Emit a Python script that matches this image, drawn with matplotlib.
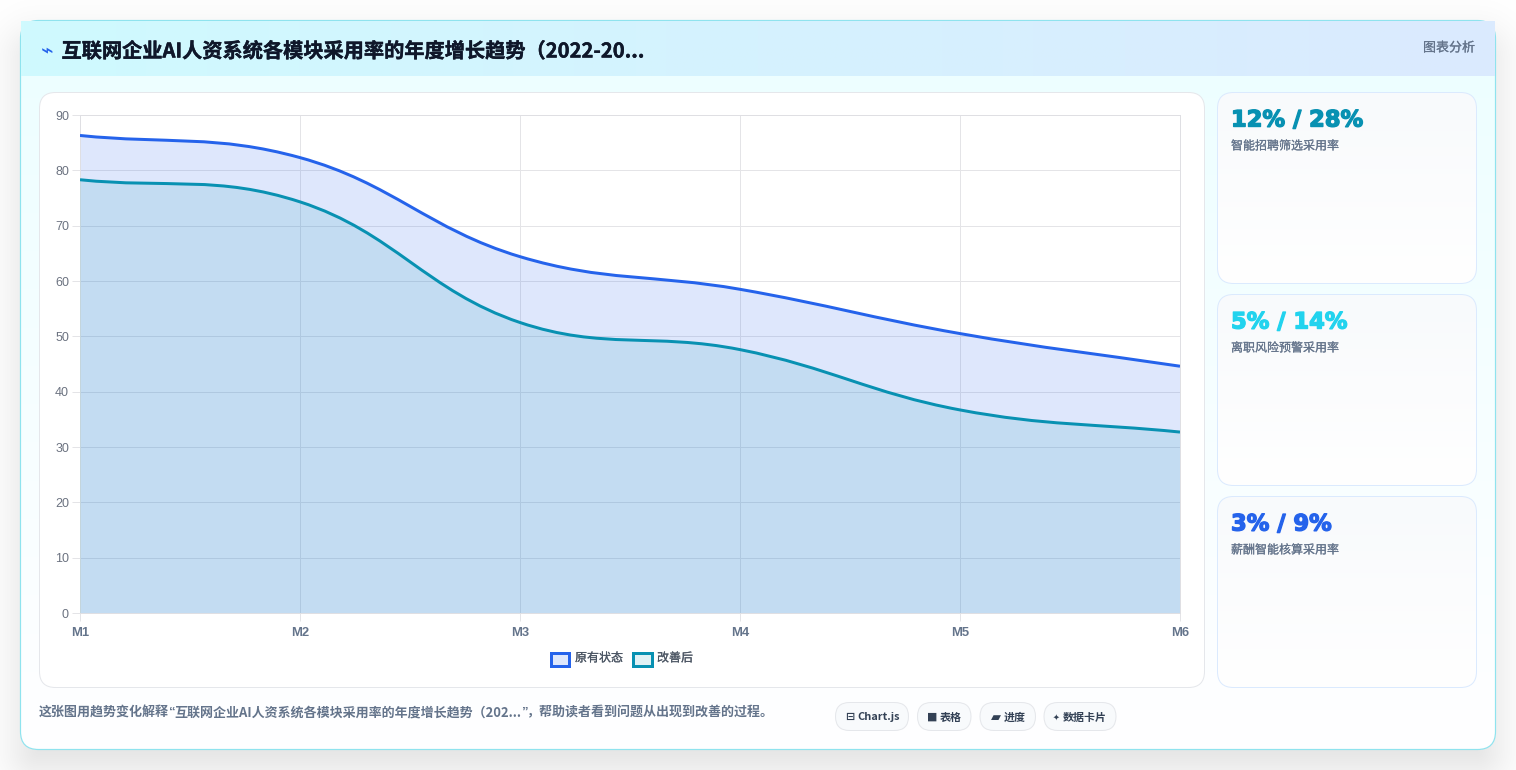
import numpy as np
import matplotlib
matplotlib.use("Agg")
import matplotlib.pyplot as plt
import matplotlib.patheffects as pe
from matplotlib.patches import FancyBboxPatch, PathPatch, Rectangle
from matplotlib.path import Path
from matplotlib.colors import to_rgb

W, H = 1516, 770
CJK = ["Noto Sans CJK SC", "DejaVu Sans"]

months = ["M1", "M2", "M3", "M4", "M5", "M6"]
before = [86.3, 82.3, 64.4, 58.5, 50.5, 44.6]
after = [78.3, 74.3, 52.5, 47.6, 36.7, 32.7]
y_ticks = [0, 10, 20, 30, 40, 50, 60, 70, 80, 90]

series_names = ["原有状态", "改善后"]
series_colors = ["#2563eb", "#0891b2"]
series_alpha = [0.15, 0.125]

title = "互联网企业AI人资系统各模块采用率的年度增长趋势（2022-20..."
caption_parts = ["这张图用趋势变化解释", "“", "互联网企业AI人资系统各模块采用率的年度增长趋势（202...", "”", "，帮助读者看到问题从出现到改善的过程。"]

kpi_values = ["12% / 28%", "5% / 14%", "3% / 9%"]
kpi_labels = ["智能招聘筛选采用率", "离职风险预警采用率", "薪酬智能核算采用率"]
kpi_colors = ["#0891b2", "#22d3ee", "#2563eb"]

chip_icons = ["⊟", "■", "▰", "✦"]
chip_texts = ["Chart.js", "表格", "进度", "数据卡片"]


def px(size):
    return size * 0.72


def rounded(x0, y0, x1, y1, r, **kw):
    return FancyBboxPatch((x0, y0), x1 - x0, y1 - y0,
                          boxstyle=f"round,pad=0,rounding_size={r}", **kw)


def thicken(txt, color, width=0.15):
    # fatten a glyph run a little, the installed weights jump too far
    txt.set_path_effects([pe.withStroke(linewidth=width, foreground=color)])
    return txt


def gradient(ax, box, start, end, angle="vertical", clip=None, zorder=1):
    x0, y0, x1, y1 = box
    t = np.linspace(0, 1, 256)
    if angle == "vertical":
        t = t[:, None]
    else:
        t = t[None, :]
    a, b = np.array(to_rgb(start)), np.array(to_rgb(end))
    img = a + (b - a) * t[..., None]
    im = ax.imshow(img, extent=[x0, x1, y1, y0], aspect="auto", zorder=zorder, interpolation="bilinear")
    if clip is not None:
        im.set_clip_path(clip)
    ax.set_xlim(0, W)
    ax.set_ylim(H, 0)


def drop_shadow(ax, box, r, offset, soft, strength):
    # soft shadow from the signed distance of a rounded rectangle
    x0, y0, x1, y1 = box
    xx, yy = np.meshgrid(np.arange(W) + 0.5, np.arange(H) + 0.5)
    cx, cy = (x0 + x1) / 2, (y0 + y1) / 2 + offset
    qx = np.abs(xx - cx) - (x1 - x0) / 2 + r
    qy = np.abs(yy - cy) - (y1 - y0) / 2 + r
    dist = np.hypot(np.maximum(qx, 0), np.maximum(qy, 0)) + np.minimum(np.maximum(qx, qy), 0) - r
    rgba = np.zeros((H, W, 4))
    rgba[..., 3] = strength / (1 + np.exp(dist / soft))
    ax.imshow(rgba, extent=[0, W, H, 0], aspect="auto", zorder=0)


def spline_path(ax, values, tension=0.4):
    # bezier segments through the points, control points worked out in screen space
    pts = ax.transData.transform(np.column_stack([np.arange(len(values)), values]))
    verts = [pts[0]]
    codes = [Path.MOVETO]
    n = len(pts)
    c_in = [pts[0]] * n
    c_out = [pts[0]] * n
    for i in range(n):
        prev_p = pts[max(i - 1, 0)]
        cur = pts[i]
        next_p = pts[min(i + 1, n - 1)]
        d01 = np.hypot(*(cur - prev_p))
        d12 = np.hypot(*(next_p - cur))
        s01 = d01 / (d01 + d12)
        s12 = d12 / (d01 + d12)
        c_in[i] = cur - tension * s01 * (next_p - prev_p)
        c_out[i] = cur + tension * s12 * (next_p - prev_p)
    for i in range(n - 1):
        verts += [c_out[i], c_in[i + 1], pts[i + 1]]
        codes += [Path.CURVE4] * 3
    inv = ax.transData.inverted()
    return inv.transform(np.array(verts)), codes


fig = plt.figure(figsize=(W / 100, H / 100), dpi=100, facecolor="white")

bg = fig.add_axes([0, 0, 1, 1], zorder=0)
bg.set_xlim(0, W)
bg.set_ylim(H, 0)
bg.axis("off")

# outer card
drop_shadow(bg, (20, 20, 1495, 749), 18, 20, 15, 0.13)
card = rounded(20.5, 20.5, 1495.5, 749.5, 18, fc="white", ec="none", zorder=1)
bg.add_patch(card)
gradient(bg, (20, 20, 1496, 750), "#ecfeff", "#ffffff", clip=card, zorder=1)
bg.add_patch(rounded(20.5, 20.5, 1495.5, 749.5, 18, fc="none", ec="#8fe3ee", lw=px(1.2), zorder=2))

# header band
gradient(bg, (21, 21, 1495, 76), "#cffafe", "#dbeafe", angle="horizontal", zorder=3)
bg.text(47.5, 50, "⌁", fontsize=px(21), color="#2563eb", family="DejaVu Sans", ha="center", va="center", zorder=4)
thicken(bg.text(61.5, 51, title, fontsize=px(20.2), fontweight="bold", color="#0f172a", family=CJK,
                va="center", zorder=4), "#0f172a", 0.3)
thicken(bg.text(1475, 48, "图表分析", fontsize=px(13), color="#64748b", family=CJK, ha="right", va="center", zorder=4),
        "#64748b")

# chart card
bg.add_patch(rounded(39.5, 92.5, 1204.5, 687.5, 16, fc="white", ec="#e5e7eb", lw=px(1), zorder=3))

# metric cards
card_tops = [92.5, 294.5, 496.5]
for top, value, label, color in zip(card_tops, kpi_values, kpi_labels, kpi_colors):
    box = rounded(1217.5, top, 1476.5, top + 191, 16, fc="white", ec="none", zorder=3)
    bg.add_patch(box)
    gradient(bg, (1217, top, 1477, top + 192), "#f8fafc", "#ffffff", clip=box, zorder=3)
    bg.add_patch(rounded(1217.5, top, 1476.5, top + 191, 16, fc="none", ec="#dbeafe", lw=px(1), zorder=4))
    thicken(bg.text(1231, top + 27.5, value, fontsize=px(22.6), fontweight="bold", color=color,
                    family="DejaVu Sans", va="center", zorder=5), color, 1.0)
    thicken(bg.text(1231, top + 53.5, label, fontsize=px(12), color="#64748b", family=CJK, va="center", zorder=5),
            "#64748b")

# footer caption, built from runs because the quote marks are narrow Latin ones
renderer = fig.canvas.get_renderer()
cursor = 39
for part in caption_parts:
    fam = "Liberation Sans" if part in "“”" else CJK
    t = bg.text(cursor, 712.5, part, fontsize=px(13), color="#64748b", fontweight="bold", family=fam,
                va="center", zorder=4)
    cursor += t.get_window_extent(renderer).width - 0.5

chip_x = [(835.5, 908.5), (917.5, 971), (980, 1035.5), (1044, 1116)]
chip_icon_x = [850, 932.5, 995.5, 1056.5]
chip_icon_size = [11, 11, 13, 8]
chip_text_x = [857, 940, 1004, 1063]
for (x0, x1), icon, ix, isize, tx, text in zip(chip_x, chip_icons, chip_icon_x, chip_icon_size, chip_text_x, chip_texts):
    bg.add_patch(rounded(x0, 702.5, x1, 730.5, 14, fc="#f8fafc", ec="#e5e7eb", lw=px(1), zorder=3))
    bg.text(ix, 717, icon, fontsize=px(isize), color="#334155", fontweight="bold", family="DejaVu Sans",
            ha="center", va="center", zorder=4)
    bg.text(tx, 717.5, text, fontsize=px(11), color="#334155", fontweight="bold", family=CJK,
            va="center", zorder=4)

# trend chart
ax = fig.add_axes([80 / W, 1 - 613 / H, 1100 / W, 498 / H], zorder=1)
ax.patch.set_alpha(0)
ax.set_xlim(0, len(months) - 1)
ax.set_ylim(0, 90)
ax.set_xticks(range(len(months)), months)
ax.set_yticks(y_ticks)
ax.grid(True, color="#e4e4e7", lw=px(1), zorder=0)
ax.set_axisbelow(True)
for side in ax.spines:
    ax.spines[side].set_color("#dfdfe3")
    ax.spines[side].set_linewidth(px(1))
ax.tick_params(axis="both", length=px(8), width=px(1), color="#e4e4e7")
ax.tick_params(axis="y", pad=px(3), labelsize=px(12.5), labelcolor="#6b7280")
ax.tick_params(axis="x", pad=px(5.5), labelsize=px(13), labelcolor="#64748b")
for lab in ax.get_xticklabels():
    lab.set_fontweight("bold")
    lab.set_family("Liberation Sans")
for lab in ax.get_yticklabels():
    lab.set_family("Liberation Sans")

for i, (values, color, fill_alpha) in enumerate(zip([before, after], series_colors, series_alpha)):
    verts, codes = spline_path(ax, values)
    fill_verts = np.vstack([verts, [[len(values) - 1, 0], [0, 0], verts[0]]])
    fill_codes = codes + [Path.LINETO, Path.LINETO, Path.CLOSEPOLY]
    ax.add_patch(PathPatch(Path(fill_verts, fill_codes), fc=color, alpha=fill_alpha, ec="none", zorder=2 + i))
    ax.add_patch(PathPatch(Path(verts, codes), fc="none", ec=color, lw=px(3), zorder=4 + i,
                           capstyle="butt", joinstyle="round"))

# legend
legend_boxes = [(550.5, 569), (632.5, 651.5)]
legend_text_x = [575, 657]
for (x0, x1), tx, name, color, fill_alpha in zip(legend_boxes, legend_text_x, series_names, series_colors, series_alpha):
    bg.add_patch(Rectangle((x0, 652.5), x1 - x0, 13, fc=color, alpha=fill_alpha, ec="none", zorder=4))
    bg.add_patch(Rectangle((x0, 652.5), x1 - x0, 13, fc="none", ec=color, lw=px(3), zorder=5))
    thicken(bg.text(tx, 658, name, fontsize=px(12), color="#4b5563", family=CJK, va="center", zorder=5), "#4b5563")

fig.savefig("out.png", dpi=100)
